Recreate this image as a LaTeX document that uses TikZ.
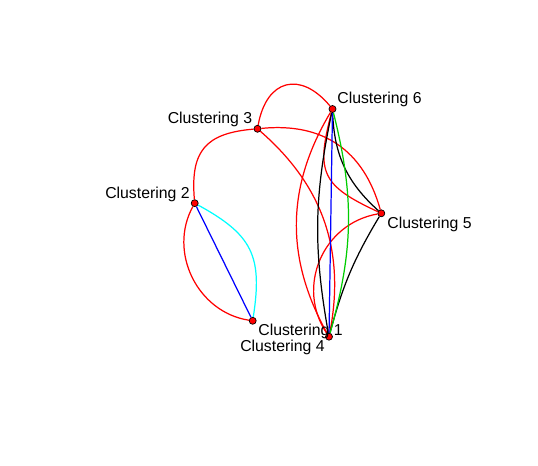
\documentclass[tikz,border=0pt]{standalone}
\usepackage{fontspec}
\setmainfont{Liberation Sans}
\usetikzlibrary{backgrounds}
\definecolor{grn}{RGB}{0,205,0}
\definecolor{cyn}{RGB}{0,255,255}
\begin{document}
\begin{tikzpicture}[x=0.02cm, y=0.02cm, font=\fontsize{9}{11}\selectfont,
      vtx/.style={circle, draw=black, line width=0.4pt, fill=red, inner sep=0pt, minimum size=0.14cm},
      lbl/.style={inner sep=0pt},
      edge/.style={line width=0.7pt}]
    \useasboundingbox (0,0) rectangle (538,466);
    \node[vtx] (c6) at (332.5,357.0) {};
    \node[vtx] (c3) at (257.5,337.2) {};
    \node[vtx] (c2) at (194.7,262.8) {};
    \node[vtx] (c5) at (381.3,252.7) {};
    \node[vtx] (c1) at (252.7,145.2) {};
    \node[vtx] (c4) at (329.0,129.3) {};
    \node[lbl, anchor=base west] (l6) at (337,362.5) {Clustering 6};
    \node[lbl, anchor=base east] (l3) at (252.5,342.5) {Clustering 3};
    \node[lbl, anchor=base east] (l2) at (190,267.5) {Clustering 2};
    \node[lbl, anchor=base west] (l5) at (387,237.5) {Clustering 5};
    \node[lbl, anchor=base west] (l1) at (258,130) {Clustering 1};
    \node[lbl, anchor=base east] (l4) at (325,114) {Clustering 4};
    \begin{pgfonlayer}{background}
      \draw[edge, red] (c3) to[bend left=65, looseness=1.6] (c6);
      \draw[edge, red] (c2) to[bend left=45, looseness=1.35] (c3);
      \draw[edge, red] (c3) to[bend left=40, looseness=1.1] (c5);
      \draw[edge, red] (c3) to[bend left=30] (c4);
      \draw[edge, red] (c6) to[bend right=30] (c4);
      \draw[edge, red] (c6) to[bend right=40, looseness=1.45] (c5);
      \draw[edge, red] (c5) to[bend right=57, looseness=1.1] (c4);
      \draw[edge, red] (c2) to[bend right=55, looseness=1.05] (c1);
      \draw[edge, black] (c6) to[bend right=23] (c5);
      \draw[edge, black] (c6) to[bend right=11] (c4);
      \draw[edge, black] (c5) to[bend right=8] (c4);
      \draw[edge, blue] (c6) -- (c4);
      \draw[edge, grn] (c6) to[bend left=15] (c4);
      \draw[edge, blue] (c2) -- (c1);
      \draw[edge, cyn] (c2) to[bend left=35, looseness=1.27] (c1);
    \end{pgfonlayer}
  \end{tikzpicture}
\end{document}
